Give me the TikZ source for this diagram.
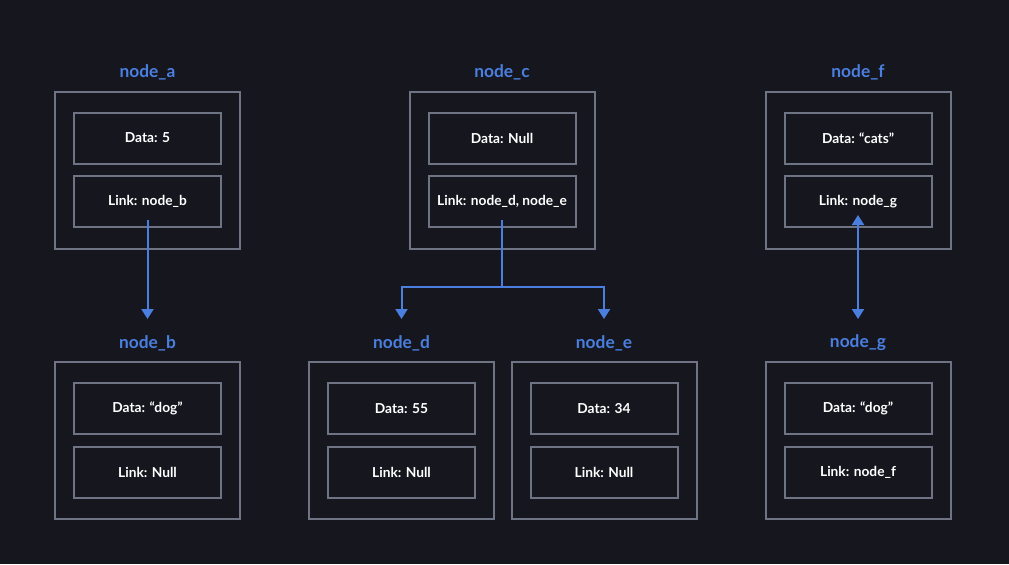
\documentclass[tikz,border=0pt]{standalone}
\usepackage{fontspec}
\setmainfont{Lato}
\usetikzlibrary{arrows.meta}
\definecolor{bg}{HTML}{16161F}
\definecolor{frame}{HTML}{6E7484}
\definecolor{accent}{HTML}{4A7FE0}
\begin{document}
\begin{tikzpicture}[x=0.75pt,y=-0.75pt,
  outer/.style={draw=frame,line width=1.5pt,minimum width=138.75pt,minimum height=117.75pt,inner sep=0pt},
  field/.style={draw=frame,line width=1.5pt,minimum width=110.25pt,minimum height=38.25pt,inner sep=0pt,text=white,font=\bfseries\fontsize{10.3}{12}\selectfont},
  title/.style={text=accent,font=\bfseries\fontsize{13}{15}\selectfont,inner sep=0pt},
  link/.style={draw=accent,line width=1.5pt,-{Triangle[width=9pt,length=7.5pt]}},
  blink/.style={draw=accent,line width=1.5pt,{Triangle[width=9pt,length=7.5pt]}-{Triangle[width=9pt,length=7.5pt]}}]
\fill[bg] (0,0) rectangle (1009,564);
\useasboundingbox (0,0) rectangle (1009,564);
% top row
\node[title] (ta) at (147.5,72) {node\_a};
\node[outer] (oa) at (147.5,170.5) {};
\node[field] (da) at (147.5,138) {Data: 5};
\node[field] (la) at (147.5,201.5) {Link: node\_b};
\node[title] (tc) at (502,72) {node\_c};
\node[outer] (oc) at (502,170.5) {};
\node[field] (dc) at (502,138) {Data: Null};
\node[field] (lc) at (502,201.5) {Link: node\_d, node\_e};
\node[title] (tf) at (858,72) {node\_f};
\node[outer] (of) at (858,170.5) {};
\node[field] (df) at (858,138) {Data: “cats”};
\node[field] (lf) at (858,201.5) {Link: node\_g};
% bottom row
\node[title] (tb) at (147.5,343) {node\_b};
\node[outer] (ob) at (147.5,440.5) {};
\node[field] (db) at (147.5,408.5) {Data: “dog”};
\node[field] (lb) at (147.5,472.5) {Link: Null};
\node[title] (td) at (401.5,343) {node\_d};
\node[outer] (od) at (401.5,440.5) {};
\node[field] (dd) at (401.5,408.5) {Data: 55};
\node[field] (ld) at (401.5,472.5) {Link: Null};
\node[title] (te) at (604,343) {node\_e};
\node[outer] (oe) at (604,440.5) {};
\node[field] (de) at (604,408.5) {Data: 34};
\node[field] (le) at (604,472.5) {Link: Null};
\node[title] (tg) at (858,343) {node\_g};
\node[outer] (og) at (858,440.5) {};
\node[field] (dg) at (858,408.5) {Data: “dog”};
\node[field] (lg) at (858,472.5) {Link: node\_f};
% connectors
\coordinate (sa) at (147.5,220);
\coordinate (eb) at (147.5,319);
\draw[link] (sa) -- (eb);
\coordinate (sc) at (502,220);
\coordinate (jc) at (502,287);
\coordinate (ed) at (401.5,319);
\coordinate (ee) at (604,319);
\draw[link] (sc) -- (jc) -| (ed);
\draw[link] (jc) -| (ee);
\coordinate (sf) at (858,215);
\coordinate (eg) at (858,319);
\draw[blink] (sf) -- (eg);
\end{tikzpicture}
\end{document}
